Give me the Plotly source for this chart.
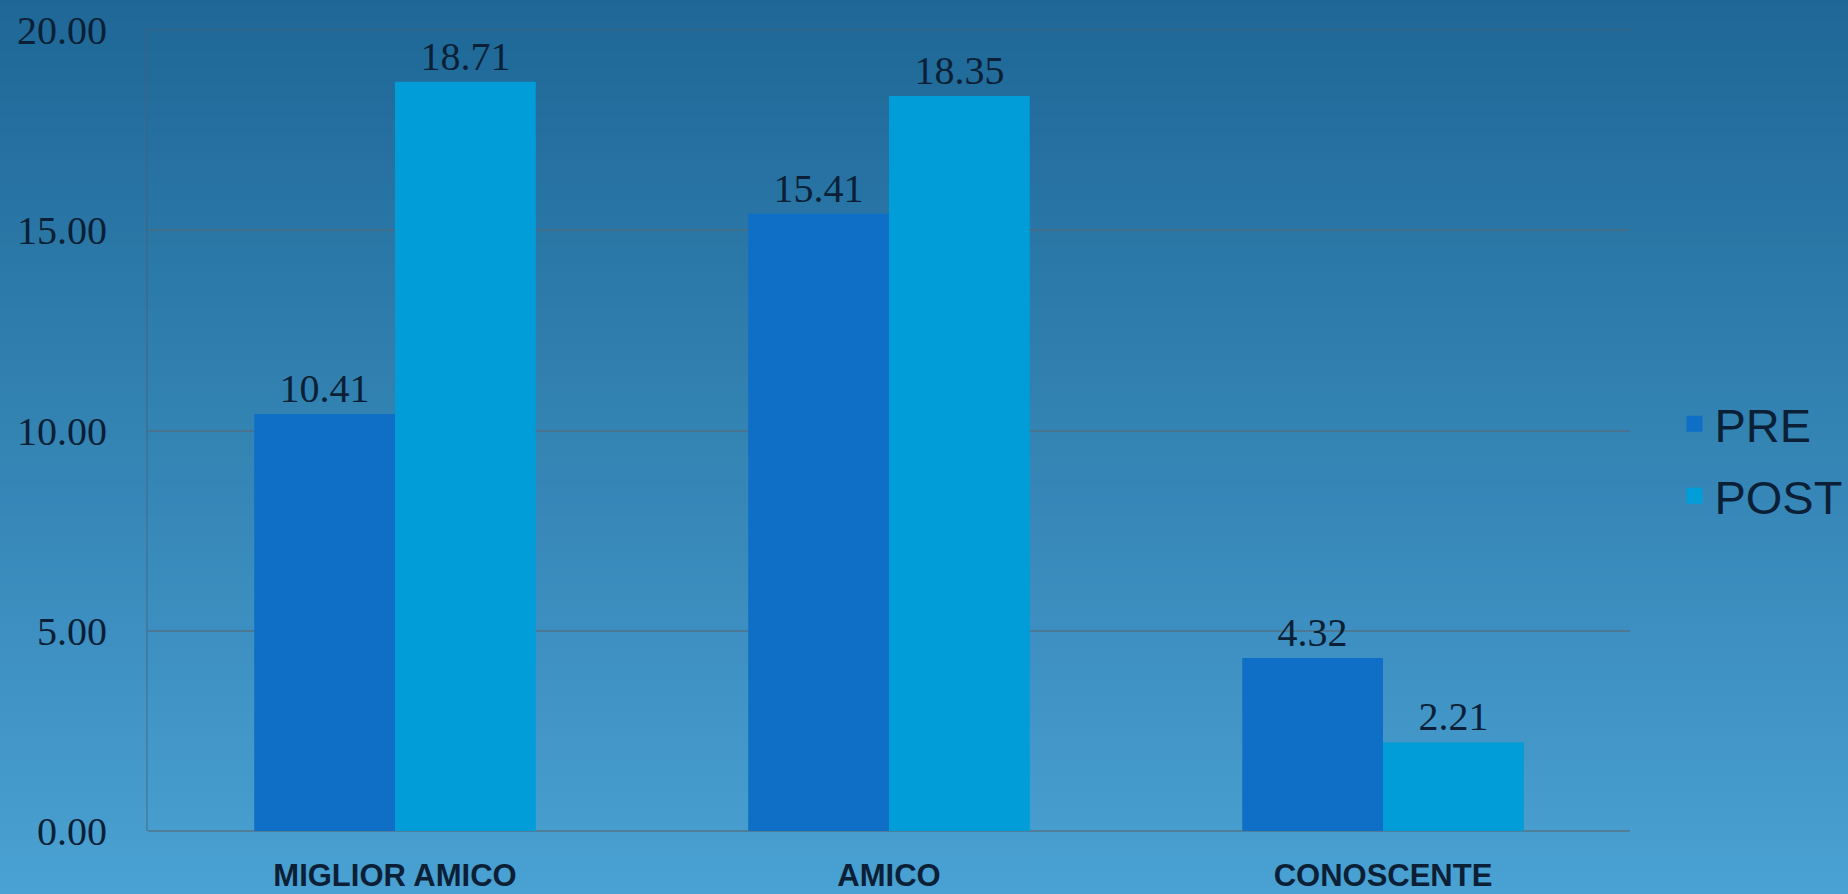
import plotly.graph_objects as go

categories = ["MIGLIOR AMICO", "AMICO", "CONOSCENTE"]
pre_values = [10.41, 15.41, 4.32]
post_values = [18.71, 18.35, 2.21]
series_names = ["PRE", "POST"]
y_ticks = [0, 5, 10, 15, 20]
y_tick_labels = ["0.00", "5.00", "10.00", "15.00", "20.00"]

PRE_COLOR = "#0f6fc6"
POST_COLOR = "#009dd9"
TEXT_COLOR = "#0b1f36"
GRID_COLOR = "rgba(85,105,120,0.6)"

fig = go.Figure()
for name, vals, col in [(series_names[0], pre_values, PRE_COLOR),
                        (series_names[1], post_values, POST_COLOR)]:
    fig.add_trace(go.Bar(
        name=name, x=categories, y=vals,
        marker=dict(color=col, line=dict(width=0)),
        text=[f"{v:.2f}" for v in vals], textposition="outside",
        textfont=dict(family="Liberation Serif", size=40, color=TEXT_COLOR),
        cliponaxis=False, showlegend=False, legendgroup=name,
    ))
    # legend entry with a larger square swatch
    fig.add_trace(go.Scatter(
        name=name, x=[None], y=[None], mode="markers",
        marker=dict(symbol="square", size=16, color=col),
        legendgroup=name, showlegend=True, hoverinfo="skip",
    ))

# vertical background gradient built from horizontal bands
top = (30, 103, 150)
bot = (76, 164, 214)
n = 60
shapes = []
for i in range(n):
    t = i / (n - 1)
    c = tuple(round(top[k] + (bot[k] - top[k]) * t) for k in range(3))
    shapes.append(dict(type="rect", xref="paper", yref="paper",
                       x0=-0.2, x1=1.3, y0=1.05 - (i + 1) * 1.2 / n - 0.01,
                       y1=1.05 - i * 1.2 / n,
                       fillcolor=f"rgb{c}", line=dict(width=0), layer="below"))

fig.update_layout(
    width=1848, height=894,
    margin=dict(l=148, r=218, t=30, b=63, autoexpand=False),
    paper_bgcolor="rgb(50,130,180)",
    plot_bgcolor="rgba(0,0,0,0)",
    barmode="group", bargap=0.43, bargroupgap=0,
    shapes=shapes,
    showlegend=True,
    legend=dict(x=1.03, xanchor="left", y=0.463, yanchor="middle",
                font=dict(family="Liberation Sans", size=47, color=TEXT_COLOR),
                bgcolor="rgba(0,0,0,0)", itemwidth=30, tracegroupgap=8,
                itemsizing="trace"),
    xaxis=dict(
        tickfont=dict(family="Liberation Sans", size=31, color=TEXT_COLOR, weight="bold"),
        showgrid=False, showline=False, ticks="", ticklabelstandoff=23,
        automargin=False,
    ),
    yaxis=dict(
        range=[0, 20], tickvals=y_ticks, ticktext=y_tick_labels,
        tickfont=dict(family="Liberation Serif", size=40, color=TEXT_COLOR),
        showgrid=True, gridcolor=GRID_COLOR, gridwidth=2,
        zeroline=True, zerolinecolor=GRID_COLOR, zerolinewidth=2,
        showline=True, linecolor="rgba(70,95,115,0.4)", linewidth=2, mirror=False,
        ticks="", ticklabelstandoff=31, automargin=False,
    ),
)
fig.add_shape(type="line", xref="paper", yref="paper", x0=0, x1=1, y0=1, y1=1,
              line=dict(color="rgba(70,95,115,0.4)", width=2), layer="below")

fig.write_html("out.html")
